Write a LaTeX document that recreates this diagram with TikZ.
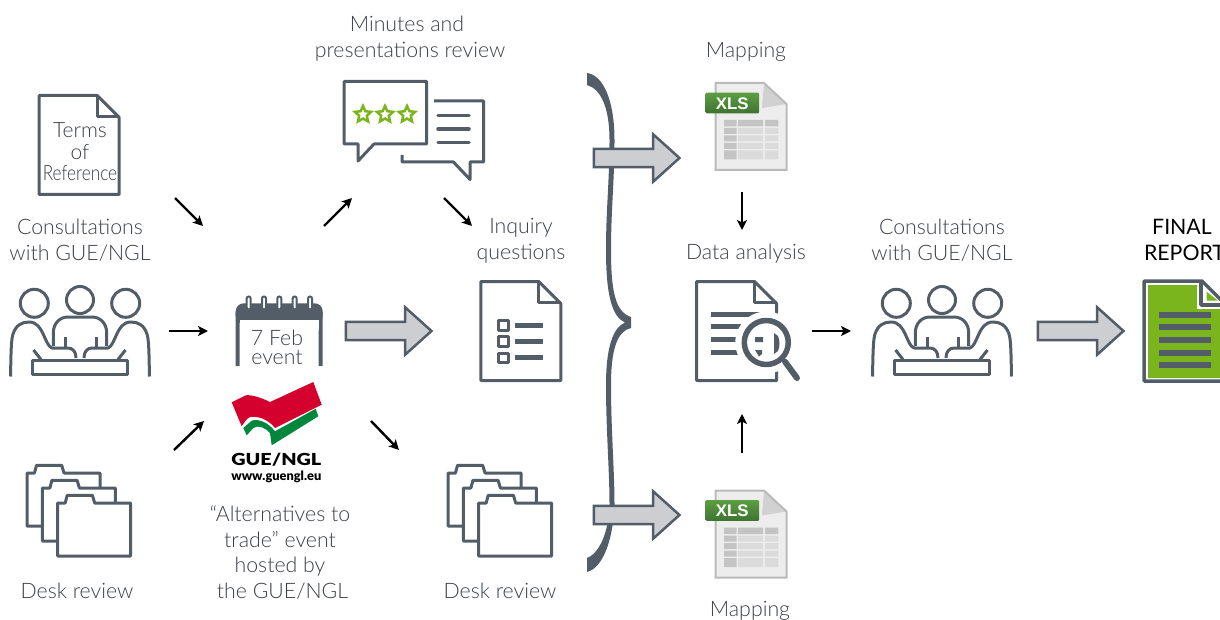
\documentclass[tikz,border=0pt]{standalone}
\usepackage{fontspec}
\setmainfont{Lato}[UprightFont=* Light,BoldFont=* Bold]
\newfontfamily\logofont{Liberation Sans}[BoldFont=* Bold]
\newfontface\logoheavy{Lato Black}
\newfontface\finalfont{Lato}
\usepackage{xcolor}
\usetikzlibrary{shapes.geometric,shapes.arrows,arrows.meta}
\definecolor{icongray}{HTML}{535D68}
\definecolor{arrowfill}{HTML}{CDCED1}
\definecolor{textgray}{HTML}{3A3F45}
\definecolor{leafgreen}{HTML}{7AB51D}
\definecolor{logored}{HTML}{D4002D}
\definecolor{logogreen}{HTML}{00873C}
\definecolor{tagtop}{HTML}{5C9E44}
\definecolor{tagbottom}{HTML}{3E7330}
\tikzset{
    lbl/.style={inner sep=0pt,align=center,text=textgray,font=\fontsize{21.3}{25.5}\selectfont},
    icon/.style={draw=icongray,line width=3pt,line join=round},
    smallarrow/.style={draw=black,line width=2.4pt,-{Stealth[length=10pt,width=10pt,inset=2.5pt]}},
    bigarrow/.style={single arrow,draw=icongray,fill=arrowfill,line width=2.5pt,minimum height=85.5pt,
        minimum width=45pt,inner sep=7.8pt,single arrow head extend=14.7pt,single arrow tip angle=84,
        single arrow head indent=0pt,anchor=tail},
    starmark/.style={star,star points=5,star point ratio=2.1,draw=leafgreen,line width=2.5pt,fill=white,
        minimum size=17pt,inner sep=0pt},
    docicon/.pic={
        \draw[icon,fill=white] (1.5,1.5) -- (59.5,1.5) -- (81.5,23.5) -- (81.5,100.5) -- (1.5,100.5) -- cycle;
        \draw[icon] (59.5,1.5) -- (59.5,22.5) -- (81.5,22.5);
    },
    % three overlapping folders
    foldersicon/.pic={
        \foreach \dx/\dy in {0/0,15.4/15,30.7/30}{
            \draw[icon,fill=white,shift={(\dx,\dy)}] (27,473) -- (34.5,473) -- (36.5,465.3) -- (61.7,465.3)
                -- (64,473) -- (100,473) -- (100,526) -- (27,526) -- cycle;
        }
    },
    % three people round a table
    peopleicon/.pic={
        \draw[icon] (34.3,303.3) circle (14);
        \draw[icon] (80,300) circle (13.5);
        \draw[icon] (125.7,303.3) circle (14);
        \draw[icon] (10.5,376.5) .. controls (11,355) and (11,340) .. (13,334) .. controls (16,325) and (22,322) .. (29,322)
            .. controls (44,322) and (44,345) .. (52,348) -- (68,348) .. controls (73,348) and (76,352) .. (76,358);
        \draw[icon] (149.5,376.5) .. controls (149,355) and (149,340) .. (147,334) .. controls (144,325) and (138,322) .. (131,322)
            .. controls (116,322) and (116,345) .. (108,348) -- (92,348) .. controls (87,348) and (84,352) .. (84,358);
        \draw[icon] (53.3,346) -- (53.3,333) .. controls (53.3,323) and (60,317) .. (68,317) -- (92,317)
            .. controls (100,317) and (106.7,323) .. (106.7,333) -- (106.7,346);
        \draw[icon] (65,337) -- (65,348);
        \draw[icon] (96,337) -- (96,348);
        \draw[icon] (33.5,350) -- (41,359.5);
        \draw[icon] (125.5,350) -- (118,359.5);
        \draw[icon] (32,360) rectangle (127.5,374.5);
    },
    % spreadsheet file with green tag
    xlsicon/.pic={
        \fill[white!93!black] (715.5,83) -- (764,83) -- (786.5,104) -- (786.5,170) -- (715.5,170) -- cycle;
        \fill[white!82!black] (764,83) -- (762,108) -- (786.5,104) -- cycle;
        \draw[white!73!black,line width=2pt] (715.5,83) -- (764,83) -- (786.5,104) -- (786.5,170) -- (715.5,170) -- cycle;
        \fill[white!77!black] (724,120) rectangle (736.5,126.5) (724,128) rectangle (736.5,134) (724,135.5) rectangle (736.5,141.5)
            (724,143) rectangle (736.5,149) (724,150.5) rectangle (736.5,159.5)
            (738,120) rectangle (763,126.5) (765,120) rectangle (778.3,126.5);
        \foreach \ry/\rh in {128/134,135.5/141.5,143/149,150.5/159.5}{
            \fill[white!86!black] (738,\ry) rectangle (763,\rh) (765,\ry) rectangle (778.3,\rh);
        }
        \shade[top color=tagtop,bottom color=tagbottom,rounded corners=1pt] (705.7,92.7) rectangle (759,113.3);
        \node[inner sep=0pt,text=white,font=\logofont\bfseries\fontsize{16.8}{17}\selectfont] (xlsTag) at (732.3,103.7) {XLS};
    },
}
\begin{document}
\begin{tikzpicture}[x=1pt,y=-1pt]
    \useasboundingbox (0,0) rectangle (1220,620);

    % Left column
    \pic (torDoc) at (37.7,94) {docicon};
    \node[lbl,font=\fontsize{21}{21.5}\selectfont] (torText) at (80,152) {Terms\\of\\\scalebox{.82}[1]{Reference}};
    \node[lbl] (consultA) at (80,240) {Consultations\\with GUE/NGL};
    \pic (peopleA) at (0,0) {peopleicon};
    \pic (foldersA) at (0,0) {foldersicon};
    \node[lbl] (deskA) at (77,591) {Desk review};

    % Calendar
    \fill[icongray,rounded corners=8pt] (235.7,324) -- (235.7,303.3) -- (322.7,303.3) -- (322.7,324) -- cycle;
    \fill[icongray] (235.7,312) rectangle (322.7,320) (235.7,320) rectangle (239.7,366) (318.7,320) rectangle (322.7,366);
    \fill[white] (239.7,320) rectangle (318.7,330);
    \foreach \rx in {248.7,264,279.3,294.7,310}{
        \draw[draw=icongray,fill=white,line width=2pt,rounded corners=2pt] (\rx-2,296.5) rectangle (\rx+2,309.5);
    }
    \node[lbl,font=\fontsize{21.3}{19.5}\selectfont] (eventDate) at (277,347.5) {7 Feb\\event};

    % GUE/NGL logo
    \fill[logored] (231.7,402.3) -- (245.7,395.3) .. controls (252,394.5) and (262,398) .. (270,402) -- (313.3,382) -- (321.7,404.7)
        -- (275,428) .. controls (268,419) and (258,416) .. (250,417) .. controls (246,419) and (244,423) .. (241.7,426.3) -- cycle;
    \fill[logogreen] (243.3,428) -- (251.7,420.7) .. controls (258,418.5) and (268,422) .. (275,431.3) -- (315.7,408.7) -- (318.3,416.3)
        -- (271.7,445.3) -- (270,433) .. controls (266,428) and (258,424.5) .. (253.3,428) -- (246.7,435.3) -- cycle;
    \node[inner sep=0pt,font=\logoheavy] (logoName) at (276.3,460) {\resizebox{90pt}{12.4pt}{GUE/NGL}};
    \node[inner sep=0pt,font=\logoheavy] (logoWeb) at (276.3,477) {\resizebox{90pt}{!}{www.guengl.eu}};
    \node[lbl] (eventText) at (280,552.5) {“Alternatives to\\trade” event\\hosted by\\\hspace*{5pt}the GUE/NGL};

    % Review bubbles
    \node[lbl] (minutes) at (410,38.5) {Minutes and\hspace*{6pt}\\presentations review};
    \draw[icon] (344,81.5) -- (426.5,81.5) -- (426.5,144) -- (374,144) -- (358,161) -- (358,144) -- (344,144) -- cycle;
    \foreach \sx [count=\si] in {363,385,407}{
        \node[starmark] (star\si) at (\sx,114.5) {};
    }
    \draw[icon] (434,101) -- (483.5,101) -- (483.5,162) -- (470,162) -- (470,179.5) -- (453.5,162) -- (402,162) -- (402,155);
    \foreach \ly in {115.7,129,142.3}{
        \draw[icon,line width=3.5pt,line cap=round] (438,\ly) -- (469,\ly);
    }

    % Inquiry questions
    \node[lbl] (inquiry) at (521,241) {Inquiry\\questions};
    \pic (inquiryDoc) at (479.3,280) {docicon};
    \foreach \cy in {325.5,341.5,357.8}{
        \draw[icon] (498,\cy-4.8) rectangle (508.7,\cy+4.8);
        \fill[icongray] (515,\cy-2.5) rectangle (543.3,\cy+2.5);
    }
    \pic (foldersB) at (421,0) {foldersicon};
    \node[lbl] (deskB) at (500,591) {Desk review};

    % Brace
    \fill[icongray] (587,73) .. controls (603,75) and (614.5,100) .. (614.5,140) .. controls (614.5,180) and (611,210) .. (611,250)
        .. controls (611,290) and (615,312) .. (631,317) -- (631,328) .. controls (617,331) and (611,350) .. (611,385)
        .. controls (611,430) and (614.5,470) .. (614.5,505) .. controls (613,540) and (603,568) .. (587,572)
        -- (587,558) .. controls (598,554) and (608.5,535) .. (609.5,505) .. controls (609.5,470) and (606,430) .. (606,385)
        .. controls (606,350) and (612,328) .. (625,322.5) .. controls (612,317) and (606,295) .. (606,250)
        .. controls (606,210) and (609.5,180) .. (609.5,140) .. controls (609.5,108) and (601,89) .. (587,85) -- cycle;

    % Big arrows
    \node[bigarrow] (arrowA) at (344.7,331) {};
    \node[bigarrow] (arrowB) at (592.7,158) {};
    \node[bigarrow] (arrowC) at (592.7,515) {};
    \node[bigarrow] (arrowD) at (1036.7,331) {};

    % Mapping and analysis
    \node[lbl] (mapTop) at (746,52) {Mapping};
    \pic (xlsTop) at (0,0) {xlsicon};
    \node[lbl] (analysis) at (746,254) {Data analysis};
    \pic (analysisDoc) at (695,280) {docicon};
    \foreach \ly in {314.3,326.7,339.3,352.3}{
        \fill[icongray] (711,\ly-2.5) rectangle (765,\ly+2.5);
    }
    \fill[white] (766.3,342.5) circle (31);
    \fill[icongray] (755,337) rectangle (763,342) (755,350) -- (762,350) -- (762,354) -- (759,356.5) -- cycle;
    \fill[icongray] (774,333) -- (778,336) .. controls (780,341) and (780,346) .. (778,351) -- (774,354) -- cycle;
    \draw[icon,line width=5.5pt] (766.3,342.5) circle (22);
    \draw[icon,line width=6pt,line cap=round] (785,361.7) -- (797,378);
    \pic (xlsBottom) at (0,407.5) {xlsicon};
    \node[lbl] (mapBottom) at (750,611) {Mapping};

    % Right side
    \node[lbl] (consultB) at (942,240) {Consultations\\with GUE/NGL};
    \pic (peopleB) at (862,0) {peopleicon};
    \node[lbl,text=black,font=\finalfont\fontsize{21.3}{25.5}\selectfont] (finalLabel) at (1184.5,240) {FINAL\hspace*{5pt}\\REPORT};
    \draw[icon,line width=3.5pt,fill=white] (1144,281) -- (1202,281) -- (1224,303) -- (1224,381) -- (1144,381) -- cycle;
    \fill[leafgreen] (1148,285) -- (1197,285) -- (1197,309) -- (1226,309) -- (1226,378) -- (1148,378) -- cycle;
    \draw[icon,line width=3.5pt] (1201,281) -- (1201,305) -- (1224,305);
    \fill[leafgreen] (1206.7,291.7) -- (1218,300.7) -- (1206.7,300.7) -- cycle;
    \foreach \ly in {315,326.7,340,352.7,365}{
        \fill[icongray] (1159,\ly-3) rectangle (1211,\ly+3);
    }

    % Small arrows
    \coordinate (torEnd) at (175,198);
    \coordinate (eventTop) at (203,226);
    \coordinate (peopleEnd) at (169,331);
    \coordinate (eventLeft) at (208,331);
    \coordinate (deskEnd) at (174,450);
    \coordinate (eventLow) at (204,421);
    \coordinate (eventUp) at (324,226);
    \coordinate (bubbleLow) at (352,198);
    \coordinate (bubbleEnd) at (444,198);
    \coordinate (inquiryTop) at (472,226);
    \coordinate (eventOut) at (371,421);
    \coordinate (deskIn) at (399,450);
    \coordinate (xlsTopEnd) at (742,192);
    \coordinate (analysisTop) at (742,230);
    \coordinate (analysisOut) at (812,331);
    \coordinate (peopleIn) at (851,331);
    \coordinate (xlsLowEnd) at (742,453);
    \coordinate (analysisLow) at (742,414);
    \draw[smallarrow] (torEnd) -- (eventTop);
    \draw[smallarrow] (peopleEnd) -- (eventLeft);
    \draw[smallarrow] (deskEnd) -- (eventLow);
    \draw[smallarrow] (eventUp) -- (bubbleLow);
    \draw[smallarrow] (bubbleEnd) -- (inquiryTop);
    \draw[smallarrow] (eventOut) -- (deskIn);
    \draw[smallarrow] (xlsTopEnd) -- (analysisTop);
    \draw[smallarrow] (analysisOut) -- (peopleIn);
    \draw[smallarrow] (xlsLowEnd) -- (analysisLow);
\end{tikzpicture}
\end{document}
